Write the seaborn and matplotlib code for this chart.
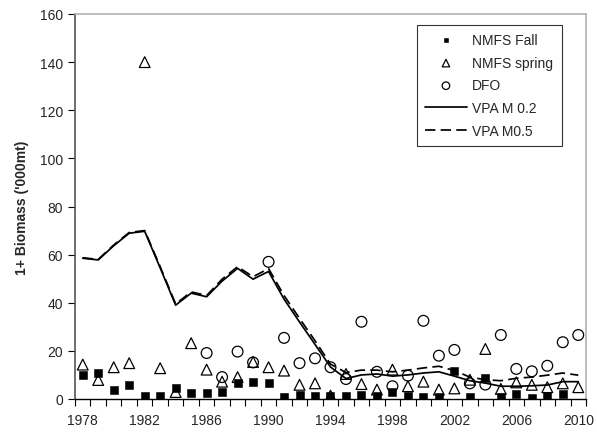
import numpy as np
import pandas as pd
import matplotlib
matplotlib.use("Agg")
import matplotlib.pyplot as plt
import seaborn as sns

years = list(range(1978, 2011))

nmfs_fall = [10.0, 10.8, 3.8, 5.8, 1.4, 1.4, 4.6, 2.5, 2.5, 2.9, 6.6, 7.0, 6.6,
             0.8, 1.7, 1.2, 1.3, 1.2, 1.7, 1.3, 3.0, 1.3, 1.0, 0.8, 11.7, 1.0,
             8.6, 1.0, 2.0, 0.5, 1.2, 2.0, np.nan]

nmfs_spring = [14.3, 7.9, 13.2, 14.9, 140.0, 12.8, 2.9, 23.2, 12.2, 7.2, 9.1, 15.4,
               13.2, 11.8, 5.9, 6.5, 1.4, 10.4, 6.2, 3.9, 12.2, 5.3, 7.2, 3.9,
               4.4, 8.0, 20.8, 4.2, 6.9, 5.9, 4.9, 6.5, 4.9]

dfo = [np.nan] * 8 + [19.1, 9.1, 19.7, 15.2, 57.0, 25.4, 14.9, 16.9, 13.2, 8.3,
                      32.1, 11.3, 5.3, 9.7, 32.5, 18.0, 20.4, 6.5, 6.0, 26.6,
                      12.5, 11.5, 13.8, 23.6, 26.6]

vpa_m02 = [58.5, 57.8, 63.7, 68.9, 69.7, 54.5, 39.0, 44.0, 42.5, 49.0, 54.3, 49.8,
           53.0, 41.5, 32.0, 22.7, 13.3, 8.5, 10.0, 10.4, 9.5, 10.0, 10.8, 11.3,
           9.5, 7.6, 6.6, 5.3, 5.3, 5.5, 5.8, 7.2, 7.2]

vpa_m05 = [58.7, 58.0, 64.0, 69.2, 70.0, 55.0, 39.5, 44.5, 43.0, 49.8, 55.0, 50.8,
           54.2, 43.0, 33.5, 24.2, 14.5, 11.0, 12.0, 12.0, 11.3, 12.0, 12.9, 13.6,
           11.8, 9.1, 8.0, 7.6, 8.6, 9.1, 9.9, 10.8, 9.9]

df = pd.DataFrame({"year": years, "fall": nmfs_fall, "spring": nmfs_spring,
                   "dfo": dfo, "m02": vpa_m02, "m05": vpa_m05})

sns.set_style("white")
plt.rcParams["font.family"] = ["Liberation Sans", "DejaVu Sans"]

fig = plt.figure(figsize=(5.97, 4.39), dpi=100)
ax = fig.add_axes([75 / 597, 1 - 400 / 439, 511 / 597, 385 / 439])

sns.scatterplot(data=df, x="year", y="fall", marker="s", color="black",
                edgecolor="black", s=26, ax=ax, label="NMFS Fall", zorder=4)
sns.scatterplot(data=df, x="year", y="spring", marker="^", color="white",
                edgecolor="black", linewidth=0.9, s=60, ax=ax,
                label="NMFS spring", zorder=5)
sns.scatterplot(data=df, x="year", y="dfo", marker="o", color="white",
                edgecolor="black", linewidth=0.9, s=60, ax=ax, label="DFO",
                zorder=5)
sns.lineplot(data=df, x="year", y="m02", color="black", lw=1.25, ax=ax,
             label="VPA M 0.2", zorder=3)
sns.lineplot(data=df, x="year", y="m05", color="black", lw=1.25, ax=ax,
             linestyle=(0, (6, 3)), label="VPA M0.5", zorder=3)
ax.collections[1].set_facecolor("none")
ax.collections[2].set_facecolor("none")

ax.set_xlim(1977.5, 2010.5)
ax.set_ylim(0, 160)
ax.set_yticks(range(0, 161, 20))
ax.set_xticks(range(1978, 2011, 4))
ax.set_xticks(np.arange(1977.5, 2011, 1), minor=True)
ax.tick_params(axis="x", which="major", length=0, pad=10, labelsize=10)
ax.tick_params(axis="x", which="minor", length=5, width=0.8, color="black",
               direction="out", bottom=True)
ax.tick_params(axis="y", length=5, width=0.8, color="black", direction="out",
               left=True, labelsize=10)
ax.set_xlabel("")
ax.set_ylabel("1+ Biomass ('000mt)", fontsize=10, fontweight="bold", labelpad=8)

for side in ["top", "right"]:
    ax.spines[side].set_color("#b0b0b0")
    ax.spines[side].set_linewidth(1.2)
ax.spines["left"].set_color("#555555")
ax.spines["left"].set_linewidth(1.2)
ax.spines["bottom"].set_color("black")
ax.spines["bottom"].set_linewidth(1.0)

leg = ax.legend(loc="upper right", bbox_to_anchor=(0.966, 0.99), fontsize=10,
                frameon=True, fancybox=False, edgecolor="black",
                borderpad=0.6, labelspacing=0.62, handlelength=3.0,
                handletextpad=0.4, markerscale=0.7)
leg.get_frame().set_linewidth(0.8)
for h in leg.legend_handles[1:3]:
    h.set_facecolor("none")

fig.savefig("out.png", dpi=100)
